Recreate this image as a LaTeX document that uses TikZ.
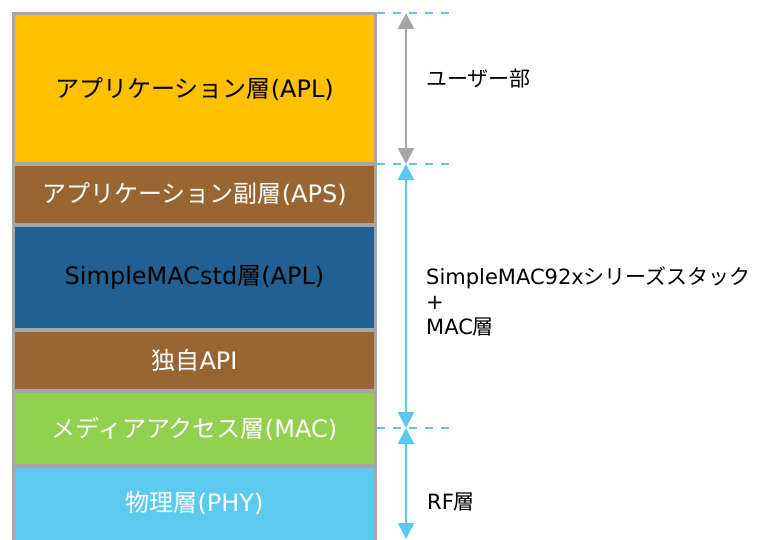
\documentclass[tikz,border=0pt]{standalone}
\usepackage{fontspec}
\setmainfont{DejaVu Sans}
\newfontfamily\jp{Noto Sans CJK JP}
\usetikzlibrary{arrows.meta}
\definecolor{cyell}{HTML}{FFC000}
\definecolor{cbrown}{HTML}{996633}
\definecolor{cdblue}{HTML}{236092}
\definecolor{cgreen}{HTML}{92D050}
\definecolor{clblue}{HTML}{5BCAEF}
\definecolor{cgrey}{HTML}{A6A6A6}
\definecolor{cdash}{HTML}{5BC8F0}
\begin{document}
\begin{tikzpicture}[x=1pt,y=-1pt,
  layer/.style={draw=cgrey, line width=3.8pt, minimum width=362pt, inner sep=0pt, font=\fontsize{24}{28}\selectfont},
  side/.style={anchor=west, inner sep=0pt, font=\fontsize{21}{25}\selectfont, align=left},
  guide/.style={draw=cdash, line width=2.2pt, dash pattern=on 8pt off 8pt},
  dim/.style={line width=2.5pt, {Triangle[length=16pt,width=16pt]}-{Triangle[length=16pt,width=16pt]}}]
\useasboundingbox (0,0) rectangle (758,539);
\clip (0,0) rectangle (758,539);
% layers
\node[layer, fill=cyell, minimum height=150.5pt] (apl) at (194.5,88.75) {{\jp アプリケーション層}(APL)};
\node[layer, fill=cbrown, text=white, minimum height=61pt] (aps) at (194.5,194.5) {{\jp アプリケーション副層}(APS)};
\node[layer, fill=cdblue, minimum height=105pt] (std) at (194.5,277.5) {SimpleMACstd{\jp 層}(APL)};
\node[layer, fill=cbrown, text=white, minimum height=61pt] (api) at (194.5,360.5) {{\jp 独自}API};
\node[layer, fill=cgreen, text=white, minimum height=75pt] (mac) at (194.5,428.5) {{\jp メディアアクセス層}(MAC)};
\node[layer, fill=clblue, minimum height=94pt,
  label={[text=white, font=\fontsize{24}{28}\selectfont, yshift=10.5pt]center:{\jp 物理層}(PHY)}] (phy) at (194.5,513) {};
% guide lines
\coordinate (g0a) at (377,13);  \coordinate (g0b) at (453,13);
\coordinate (g1a) at (377,164); \coordinate (g1b) at (453,164);
\coordinate (g2a) at (377,428); \coordinate (g2b) at (453,428);
\draw[guide] (g0a) -- (g0b);
\draw[guide] (g1a) -- (g1b);
\draw[guide] (g2a) -- (g2b);
% dimension arrows
\coordinate (a0) at (406,13);
\coordinate (a1) at (406,164);
\coordinate (a2) at (406,428);
\coordinate (a3) at (406,539);
\draw[dim, draw=cgrey, fill=cgrey] (a0) -- (a1);
\draw[dim, draw=cdash, fill=cdash] (a1) -- (a2);
\draw[dim, draw=cdash, fill=cdash] (a2) -- (a3);
% side labels
\node[side] (user) at (426,79) {\jp ユーザー部};
\node[side] (stack) at (426,301) {SimpleMAC92x{\jp シリーズスタック}\\+\\MAC{\jp 層}};
\node[side] (rf) at (427,502) {RF{\jp 層}};
\end{tikzpicture}
\end{document}
